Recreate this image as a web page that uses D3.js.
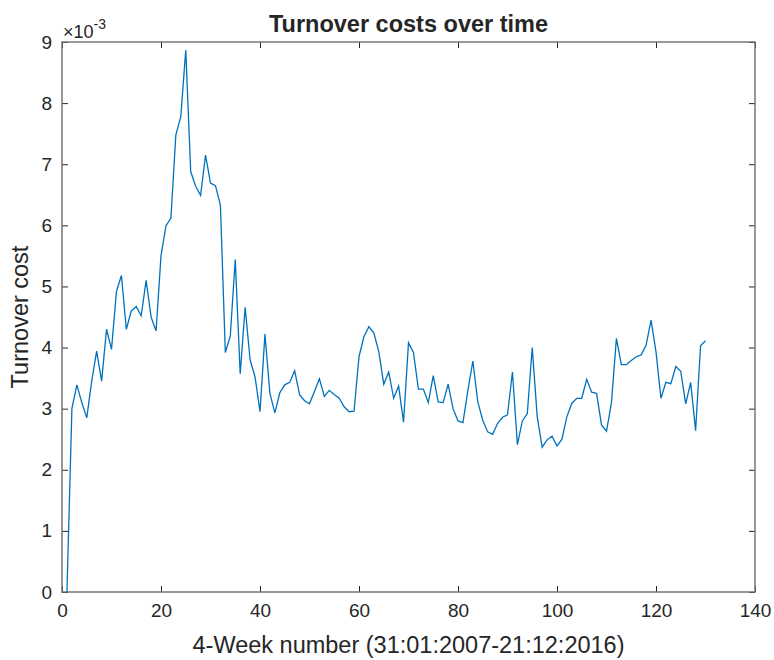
<!DOCTYPE html>
<html>
<head>
<meta charset="utf-8">
<script src="https://d3js.org/d3.v7.min.js"></script>
<style>
  body { margin: 0; background: #fff; }
  text { font-family: "Liberation Sans", Arial, sans-serif; fill: #262626; }
</style>
</head>
<body>
<svg id="chart" width="774" height="660"></svg>
<script>
// turnover cost per 4-week period, in units of 1e-3
var cost = [
  0, 3.0, 3.39, 3.1, 2.85, 3.45, 3.94, 3.45, 4.3, 3.97,
  4.92, 5.18, 4.3, 4.6, 4.67, 4.52, 5.1, 4.5, 4.27, 5.5,
  5.99, 6.12, 7.48, 7.78, 8.87, 6.88, 6.64, 6.49, 7.15, 6.69,
  6.65, 6.33, 3.92, 4.19, 5.44, 3.57, 4.66, 3.8, 3.52, 2.95,
  4.22, 3.25, 2.93, 3.26, 3.39, 3.43, 3.62, 3.23, 3.13, 3.08,
  3.28, 3.49, 3.2, 3.3, 3.23, 3.17, 3.03, 2.95, 2.96, 3.85,
  4.18, 4.34, 4.24, 3.93, 3.4, 3.6, 3.17, 3.37, 2.78, 4.08,
  3.92, 3.32, 3.32, 3.10, 3.54, 3.11, 3.10, 3.40, 3.0, 2.80,
  2.77, 3.3, 3.78, 3.11, 2.81, 2.62, 2.58, 2.76, 2.86, 2.9,
  3.6, 2.41, 2.8, 2.92, 4.0, 2.87, 2.37, 2.49, 2.55, 2.39,
  2.5, 2.87, 3.09, 3.17, 3.17, 3.48, 3.27, 3.25, 2.73, 2.63,
  3.1, 4.15, 3.72, 3.72, 3.79, 3.85, 3.88, 4.04, 4.45, 3.93,
  3.17, 3.43, 3.41, 3.69, 3.61, 3.08, 3.43, 2.64, 4.03, 4.11
];
var weeks = cost.map(function (d, i) { return i + 1; });
var xTicks = [0, 20, 40, 60, 80, 100, 120, 140];
var yTicks = [0, 1, 2, 3, 4, 5, 6, 7, 8, 9];

var svg = d3.select("#chart");
var pLeft = 62, pRight = 755, pTop = 42, pBottom = 592;

var x = d3.scaleLinear().domain([0, 140]).range([pLeft, pRight]);
var y = d3.scaleLinear().domain([0, 9]).range([pBottom, pTop]);

var axisColor = "#262626";
var tickLen = 6;

// bottom axis
var gx = svg.append("g").attr("transform", "translate(0," + pBottom + ")")
  .call(d3.axisBottom(x).tickValues(xTicks).tickSizeInner(-tickLen).tickSizeOuter(0).tickPadding(12));
// top axis ticks
var gxt = svg.append("g").attr("transform", "translate(0," + pTop + ")")
  .call(d3.axisTop(x).tickValues(xTicks).tickSizeInner(-tickLen).tickSizeOuter(0).tickFormat(""));
// left axis
var gy = svg.append("g").attr("transform", "translate(" + pLeft + ",0)")
  .call(d3.axisLeft(y).tickValues(yTicks).tickSizeInner(-tickLen).tickSizeOuter(0).tickPadding(10));
// right axis ticks
var gyr = svg.append("g").attr("transform", "translate(" + pRight + ",0)")
  .call(d3.axisRight(y).tickValues(yTicks).tickSizeInner(-tickLen).tickSizeOuter(0).tickFormat(""));

[gx, gxt, gy, gyr].forEach(function (g) {
  g.select(".domain").remove();
  g.selectAll("line").attr("stroke", axisColor).attr("stroke-width", 1);
  g.selectAll("text").attr("font-size", 19).attr("fill", "#333")
    .style("font-family", "'Liberation Sans', Arial, sans-serif");
});

// box
svg.append("rect")
  .attr("x", pLeft).attr("y", pTop)
  .attr("width", pRight - pLeft).attr("height", pBottom - pTop)
  .attr("fill", "none").attr("stroke", "#6e6e6e").attr("stroke-width", 1.4);

// line
var line = d3.line()
  .x(function (d, i) { return x(weeks[i]); })
  .y(function (d) { return y(d); });

svg.append("path")
  .datum(cost)
  .attr("d", line)
  .attr("fill", "none")
  .attr("stroke", "#0072BD")
  .attr("stroke-width", 1.3);

// exponent label
var ex = svg.append("text").attr("x", pLeft + 1).attr("y", pTop - 4).attr("font-size", 18).attr("fill", "#333");
ex.append("tspan").text("\u00d710");
ex.append("tspan").attr("font-size", 14).attr("dy", -9).text("-3");

// title
svg.append("text")
  .attr("x", (pLeft + pRight) / 2).attr("y", 32)
  .attr("text-anchor", "middle")
  .attr("font-size", 23.5).attr("font-weight", "bold")
  .attr("fill", "#000")
  .text("Turnover costs over time");

// x label
svg.append("text")
  .attr("x", (pLeft + pRight) / 2).attr("y", 653)
  .attr("text-anchor", "middle")
  .attr("font-size", 23.5)
  .text("4-Week number (31:01:2007-21:12:2016)");

// y label
svg.append("text")
  .attr("transform", "translate(28," + (pTop + pBottom) / 2 + ") rotate(-90)")
  .attr("text-anchor", "middle")
  .attr("font-size", 23.5)
  .text("Turnover cost");
</script>
</body>
</html>
